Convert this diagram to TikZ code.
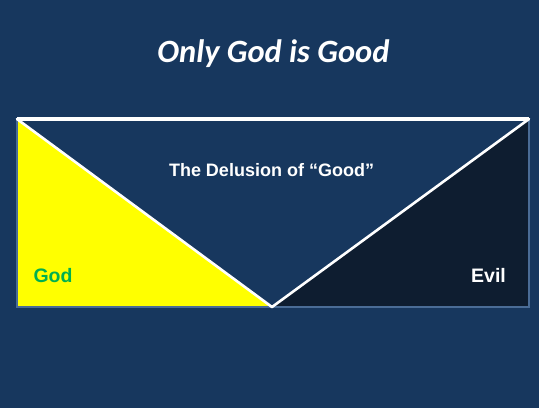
\documentclass[tikz,border=0pt]{standalone}
\usepackage{fontspec}
\setmainfont{Liberation Sans}
\newfontfamily\titlefont{Carlito}
\definecolor{bgblue}{HTML}{17375E}
\definecolor{darktri}{HTML}{0E1D30}
\definecolor{edgeblue}{HTML}{4A6C96}
\definecolor{godgreen}{HTML}{00B050}
\definecolor{sunyellow}{HTML}{FFFF00}
\tikzset{
  lbl/.style={anchor=base, inner sep=0pt, font=\bfseries\fontsize{18}{18}\selectfont},
  biglbl/.style={anchor=base, inner sep=0pt, font=\bfseries\fontsize{19.5}{19.5}\selectfont},
  vline/.style={draw=white, line width=2.6pt, line cap=round, line join=round},
}
\begin{document}
\begin{tikzpicture}[x=1pt,y=-1pt]
\fill[bgblue] (0,0) rectangle (539,408);
\useasboundingbox (0,0) rectangle (539,408);
\coordinate (tl) at (17,119);
\coordinate (tr) at (529,119);
\coordinate (bl) at (17,307);
\coordinate (br) at (529,307);
\coordinate (v) at (272,307);
\fill[sunyellow] (tl) -- (bl) -- (v) -- cycle;
\fill[darktri] (tr) -- (br) -- (v) -- cycle;
\draw[edgeblue, line width=1.3pt] (tl) rectangle (br);
\draw[vline] (tl) -- (v) -- (tr);
\draw[draw=white, line width=3.2pt] (tl) -- (tr);
\node[anchor=base, inner sep=0pt, text=white, font=\titlefont\bfseries\itshape\fontsize{32.5}{32.5}\selectfont] (title) at (273.5,62) {Only God is Good};
\node[lbl, text=white] (delusion) at (271.5,176) {The Delusion of “Good”};
\node[biglbl, text=godgreen] (god) at (53,282) {God};
\node[biglbl, text=white] (evil) at (488.5,282) {Evil};
\end{tikzpicture}
\end{document}
